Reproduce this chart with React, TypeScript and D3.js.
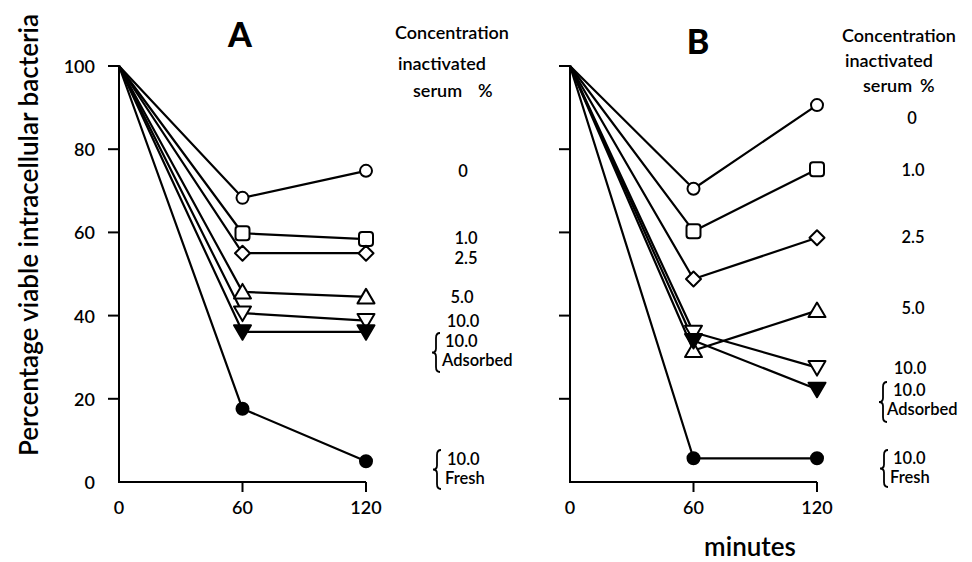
import React, { useEffect, useRef } from 'react'
import * as d3 from 'd3'

// sampling times (minutes)
const minutes = [0, 60, 120]
const yTickValues = [0, 20, 40, 60, 80, 100]
const xTickValues = [0, 60, 120]

// concentration of inactivated serum, %
const concentrations = ['0', '1.0', '2.5', '5.0', '10.0', '10.0 Adsorbed', '10.0 Fresh']

// percentage viable intracellular bacteria, one row per concentration
const panelA = [
  [100, 68.3, 74.8],
  [100, 59.8, 58.4],
  [100, 55, 55],
  [100, 45.7, 44.5],
  [100, 40.6, 38.8],
  [100, 36.1, 36.1],
  [100, 17.6, 5],
]
const panelB = [
  [100, 70.5, 90.6],
  [100, 60.3, 75.2],
  [100, 48.8, 58.7],
  [100, 31.6, 41.2],
  [100, 36, 27.5],
  [100, 34, 22.3],
  [100, 5.7, 5.7],
]

const markerTypes = ['circle', 'square', 'diamond', 'triUp', 'triDown', 'triDownFilled', 'circleFilled']

const W = 972
const H = 562
const FONT = 'Lato, "Open Sans", sans-serif'
const WEIGHT = 600

const panels = [
  {
    name: 'A', values: panelA, x0: 119, x1: 366, titleX: 240, titleY: 33,
    head: [{ t: 'Concentration', x: 395, y: 32 }, { t: 'inactivated', x: 398, y: 63 }, { t: 'serum', x: 413, y: 90 }, { t: '%', x: 478, y: 90 }],
    single: [{ x: 463, y: 171 }, { x: 466, y: 238 }, { x: 466, y: 258 }, { x: 462, y: 297 }, { x: 463, y: 321 }],
    braces: [
      { bx: 436, top: 333, bot: 372, tx: 445, ty1: 341, tx2: 442, ty2: 360 },
      { bx: 437, top: 450, bot: 489, tx: 447, ty1: 459, tx2: 445, ty2: 478 },
    ],
    yLabels: true,
  },
  {
    name: 'B', values: panelB, x0: 570, x1: 817, titleX: 698, titleY: 40,
    head: [{ t: 'Concentration', x: 842, y: 35 }, { t: 'inactivated', x: 845, y: 60 }, { t: 'serum', x: 863, y: 85 }, { t: '%', x: 920, y: 85 }],
    single: [{ x: 912, y: 118 }, { x: 913, y: 170 }, { x: 913, y: 237 }, { x: 913, y: 308 }, { x: 910, y: 368 }],
    braces: [
      { bx: 883, top: 382, bot: 422, tx: 893, ty1: 390, tx2: 887, ty2: 409 },
      { bx: 884, top: 450, bot: 487, tx: 893, ty1: 458, tx2: 890, ty2: 477 },
    ],
    yLabels: false,
  },
]

function bracePath(x: number, top: number, bot: number) {
  const mid = (top + bot) / 2
  return `M${x + 4},${top} Q${x},${top} ${x},${top + 5} L${x},${mid - 4} Q${x},${mid} ${x - 4},${mid}` +
    ` Q${x},${mid} ${x},${mid + 4} L${x},${bot - 5} Q${x},${bot} ${x + 4},${bot}`
}

function drawMarker(g: any, type: string, cx: number, cy: number) {
  const sw = 2
  if (type === 'circle' || type === 'circleFilled') {
    g.append('circle').attr('cx', cx).attr('cy', cy).attr('r', 6)
      .attr('fill', type === 'circle' ? '#fff' : '#000').attr('stroke', '#000').attr('stroke-width', sw)
  } else if (type === 'square') {
    g.append('rect').attr('x', cx - 7).attr('y', cy - 7).attr('width', 14).attr('height', 14).attr('rx', 3)
      .attr('fill', '#fff').attr('stroke', '#000').attr('stroke-width', sw)
  } else if (type === 'diamond') {
    g.append('path').attr('d', `M${cx},${cy - 7.5} L${cx + 7.5},${cy} L${cx},${cy + 7.5} L${cx - 7.5},${cy} Z`)
      .attr('fill', '#fff').attr('stroke', '#000').attr('stroke-width', sw).attr('stroke-linejoin', 'round')
  } else if (type === 'triUp') {
    g.append('path').attr('d', `M${cx},${cy - 8} L${cx + 8.5},${cy + 6.5} L${cx - 8.5},${cy + 6.5} Z`)
      .attr('fill', '#fff').attr('stroke', '#000').attr('stroke-width', sw).attr('stroke-linejoin', 'round')
  } else {
    g.append('path').attr('d', `M${cx},${cy + 8} L${cx + 8.5},${cy - 6.5} L${cx - 8.5},${cy - 6.5} Z`)
      .attr('fill', type === 'triDown' ? '#fff' : '#000').attr('stroke', '#000').attr('stroke-width', sw)
      .attr('stroke-linejoin', 'round')
  }
}

export default function App() {
  const ref = useRef<SVGSVGElement>(null)

  useEffect(() => {
    const svg = d3.select(ref.current)
    svg.selectAll('*').remove()

    const y = d3.scaleLinear().domain([0, 100]).range([482, 66])

    panels.forEach(p => {
      const x = d3.scaleLinear().domain([0, 120]).range([p.x0, p.x1])
      const g = svg.append('g')

      // axes
      g.append('line').attr('x1', x(0)).attr('x2', x(0)).attr('y1', y(0)).attr('y2', y(100))
        .attr('stroke', '#000').attr('stroke-width', 2)
      g.append('line').attr('x1', x(0) - 1).attr('x2', x(120)).attr('y1', y(0)).attr('y2', y(0))
        .attr('stroke', '#000').attr('stroke-width', 2)
      yTickValues.filter(v => v > 0).forEach(v => {
        g.append('line').attr('x1', x(0) - 11).attr('x2', x(0)).attr('y1', y(v)).attr('y2', y(v))
          .attr('stroke', '#000').attr('stroke-width', 2)
      })
      xTickValues.filter(v => v > 0).forEach(v => {
        g.append('line').attr('x1', x(v)).attr('x2', x(v)).attr('y1', y(0)).attr('y2', y(0) + 10)
          .attr('stroke', '#000').attr('stroke-width', 2)
      })
      xTickValues.forEach(v => {
        g.append('text').attr('x', x(v)).attr('y', 507).attr('text-anchor', 'middle')
          .attr('dominant-baseline', 'central').attr('font-size', 18).text(v)
      })
      if (p.yLabels) {
        yTickValues.forEach(v => {
          g.append('text').attr('x', 95).attr('y', y(v)).attr('text-anchor', 'end')
            .attr('dominant-baseline', 'central').attr('font-size', 18).text(v)
        })
      }

      // series
      const lineGen = d3.line<number>().x((d, i) => x(minutes[i])).y(d => y(d))
      p.values.forEach(vals => {
        g.append('path').datum(vals).attr('d', lineGen).attr('fill', 'none')
          .attr('stroke', '#000').attr('stroke-width', 2.2).attr('stroke-linejoin', 'round')
      })
      p.values.forEach((vals, si) => {
        vals.forEach((v, i) => {
          if (i === 0) return
          drawMarker(g, markerTypes[si], x(minutes[i]), y(v))
        })
      })

      // panel letter
      g.append('text').attr('x', p.titleX).attr('y', p.titleY).attr('text-anchor', 'middle')
        .attr('dominant-baseline', 'central').attr('font-size', 34).attr('font-weight', 900).text(p.name)

      // legend heading
      p.head.forEach(h => {
        g.append('text').attr('x', h.x).attr('y', h.y).attr('dominant-baseline', 'central')
          .attr('font-size', 18).text(h.t)
      })
      // single labels
      p.single.forEach((s, i) => {
        g.append('text').attr('x', s.x).attr('y', s.y).attr('text-anchor', 'middle')
          .attr('dominant-baseline', 'central').attr('font-size', 16.5).text(concentrations[i])
      })
      // braced labels
      p.braces.forEach((b, i) => {
        const parts = concentrations[5 + i].split(' ')
        g.append('path').attr('d', bracePath(b.bx, b.top, b.bot)).attr('fill', 'none')
          .attr('stroke', '#000').attr('stroke-width', 1.8)
        g.append('text').attr('x', b.tx).attr('y', b.ty1).attr('dominant-baseline', 'central')
          .attr('font-size', 16.5).text(parts[0])
        g.append('text').attr('x', b.tx2).attr('y', b.ty2).attr('dominant-baseline', 'central')
          .attr('font-size', 16.5).text(parts[1])
      })
    })

    svg.append('text').attr('transform', 'translate(28,235) rotate(-90)').attr('text-anchor', 'middle')
      .attr('dominant-baseline', 'central').attr('font-size', 26).text('Percentage viable intracellular bacteria')
    svg.append('text').attr('x', 750).attr('y', 556).attr('text-anchor', 'middle')
      .attr('font-size', 26).text('minutes')
  }, [])

  return (
    <svg ref={ref} width={W} height={H} fontFamily={FONT} fontWeight={WEIGHT}
      style={{ position: 'absolute', left: 0, top: 0, background: '#fff' }} />
  )
}
